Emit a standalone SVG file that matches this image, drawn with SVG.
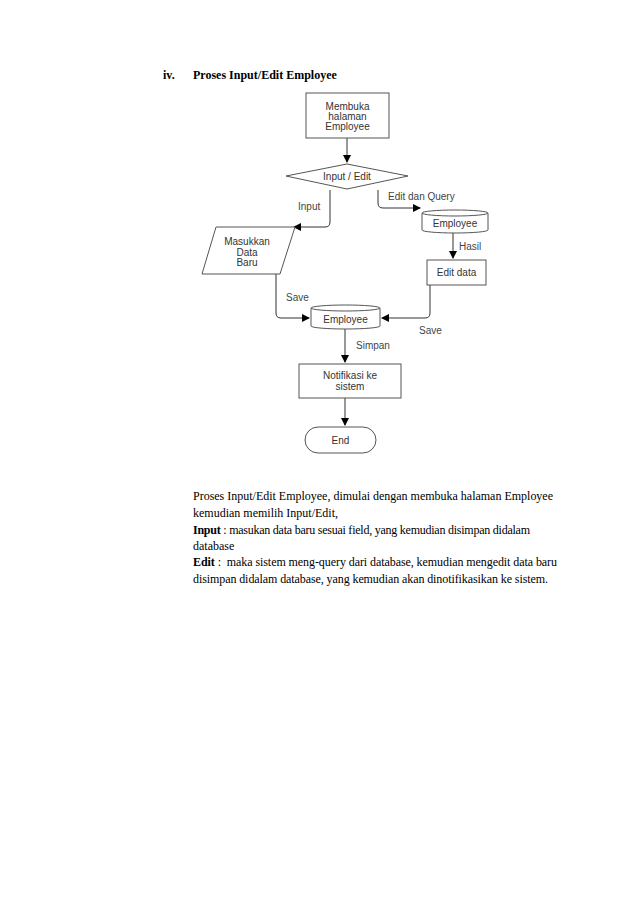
<svg xmlns="http://www.w3.org/2000/svg" width="638" height="903" viewBox="0 0 638 903">
<style>
.shape{fill:#fff;stroke:#555;stroke-width:1}
.lbl{font-family:"Liberation Sans",Arial,sans-serif;font-size:10px;fill:#333;text-anchor:middle;dominant-baseline:central}
.elbl{font-family:"Liberation Sans",Arial,sans-serif;font-size:10px;fill:#444;dominant-baseline:central}
.conn{fill:none;stroke:#333;stroke-width:1}
.doc{font-family:"Liberation Serif","Times New Roman",serif;font-size:12px;fill:#000}
</style>
<defs>
<marker id="ah" markerWidth="8" markerHeight="8" refX="7" refY="4" orient="auto" markerUnits="userSpaceOnUse">
<path d="M0,0 L8,4 L0,8 Z" fill="#000"/>
</marker>
</defs>
<rect width="638" height="903" fill="#fff"/>
<text class="doc" x="163" y="79" font-weight="bold">iv.</text>
<text class="doc" x="193" y="79" font-weight="bold">Proses Input/Edit Employee</text>

<g id="connectors">
<path class="conn" d="M347,138 L347,162" marker-end="url(#ah)"/>
<path class="conn" d="M330,190 L330,222 Q330,227 325,227 L294,227" marker-end="url(#ah)"/>
<path class="conn" d="M378,190 L378,203 Q378,208 383,208 L420,208" marker-end="url(#ah)"/>
<path class="conn" d="M453,233 L453,258" marker-end="url(#ah)"/>
<path class="conn" d="M276,274 L276,313 Q276,318 281,318 L309,318" marker-end="url(#ah)"/>
<path class="conn" d="M430,285 L430,313 Q430,318 425,318 L382,318" marker-end="url(#ah)"/>
<path class="conn" d="M345,329 L345,362" marker-end="url(#ah)"/>
<path class="conn" d="M345,398 L345,425" marker-end="url(#ah)"/>
<text class="elbl" x="298" y="206">Input</text>
<text class="elbl" x="388" y="196">Edit dan Query</text>
<text class="elbl" x="459" y="246">Hasil</text>
<text class="elbl" x="286" y="297">Save</text>
<text class="elbl" x="419" y="330">Save</text>
<text class="elbl" x="356" y="345">Simpan</text>
</g>

<g id="start">
<rect class="shape" x="306" y="93" width="83" height="45"/>
<text class="lbl" x="347.5" y="106">Membuka</text>
<text class="lbl" x="347.5" y="116">halaman</text>
<text class="lbl" x="347.5" y="126">Employee</text>
</g>

<g id="decision">
<polygon class="shape" points="286,176 347,164 408,176 347,189"/>
<text class="lbl" x="347" y="176">Input / Edit</text>
</g>

<g id="input">
<polygon class="shape" points="216,227 295,227 280,274 202,274"/>
<text class="lbl" x="247" y="241">Masukkan</text>
<text class="lbl" x="247" y="252">Data</text>
<text class="lbl" x="247" y="262">Baru</text>
</g>

<g id="db1">
<path class="shape" d="M422,213 A33,3 0 0 1 488,213 L488,230 A33,3 0 0 1 422,230 Z"/>
<path class="shape" d="M422,213 A33,3 0 0 0 488,213" fill="none"/>
<text class="lbl" x="455" y="223">Employee</text>
</g>

<g id="editdata">
<rect class="shape" x="427" y="260" width="59" height="25"/>
<text class="lbl" x="456.5" y="272.5">Edit data</text>
</g>

<g id="db2">
<path class="shape" d="M311,308 A34.5,3 0 0 1 380,308 L380,326 A34.5,3 0 0 1 311,326 Z"/>
<path class="shape" d="M311,308 A34.5,3 0 0 0 380,308" fill="none"/>
<text class="lbl" x="345.5" y="319">Employee</text>
</g>

<g id="notif">
<rect class="shape" x="299" y="364" width="102" height="34"/>
<text class="lbl" x="350" y="375">Notifikasi ke</text>
<text class="lbl" x="350" y="386">sistem</text>
</g>

<g id="end">
<rect class="shape" x="305" y="427" width="71" height="26" rx="13" ry="13"/>
<text class="lbl" x="340.5" y="440">End</text>
</g>

<text class="doc" x="193" y="500" textLength="360" lengthAdjust="spacing">Proses Input/Edit Employee, dimulai dengan membuka halaman Employee</text>
<text class="doc" x="193" y="517">kemudian memilih Input/Edit,</text>
<text class="doc" x="193" y="534" textLength="337" lengthAdjust="spacing"><tspan font-weight="bold">Input</tspan> : masukan data baru sesuai field, yang kemudian disimpan didalam</text>
<text class="doc" x="193" y="550">database</text>
<text class="doc" x="193" y="566" textLength="364" lengthAdjust="spacing"><tspan font-weight="bold">Edit</tspan> :&#160; maka sistem meng-query dari database, kemudian mengedit data baru</text>
<text class="doc" x="193" y="583" textLength="355" lengthAdjust="spacing">disimpan didalam database, yang kemudian akan dinotifikasikan ke sistem.</text>
</svg>
